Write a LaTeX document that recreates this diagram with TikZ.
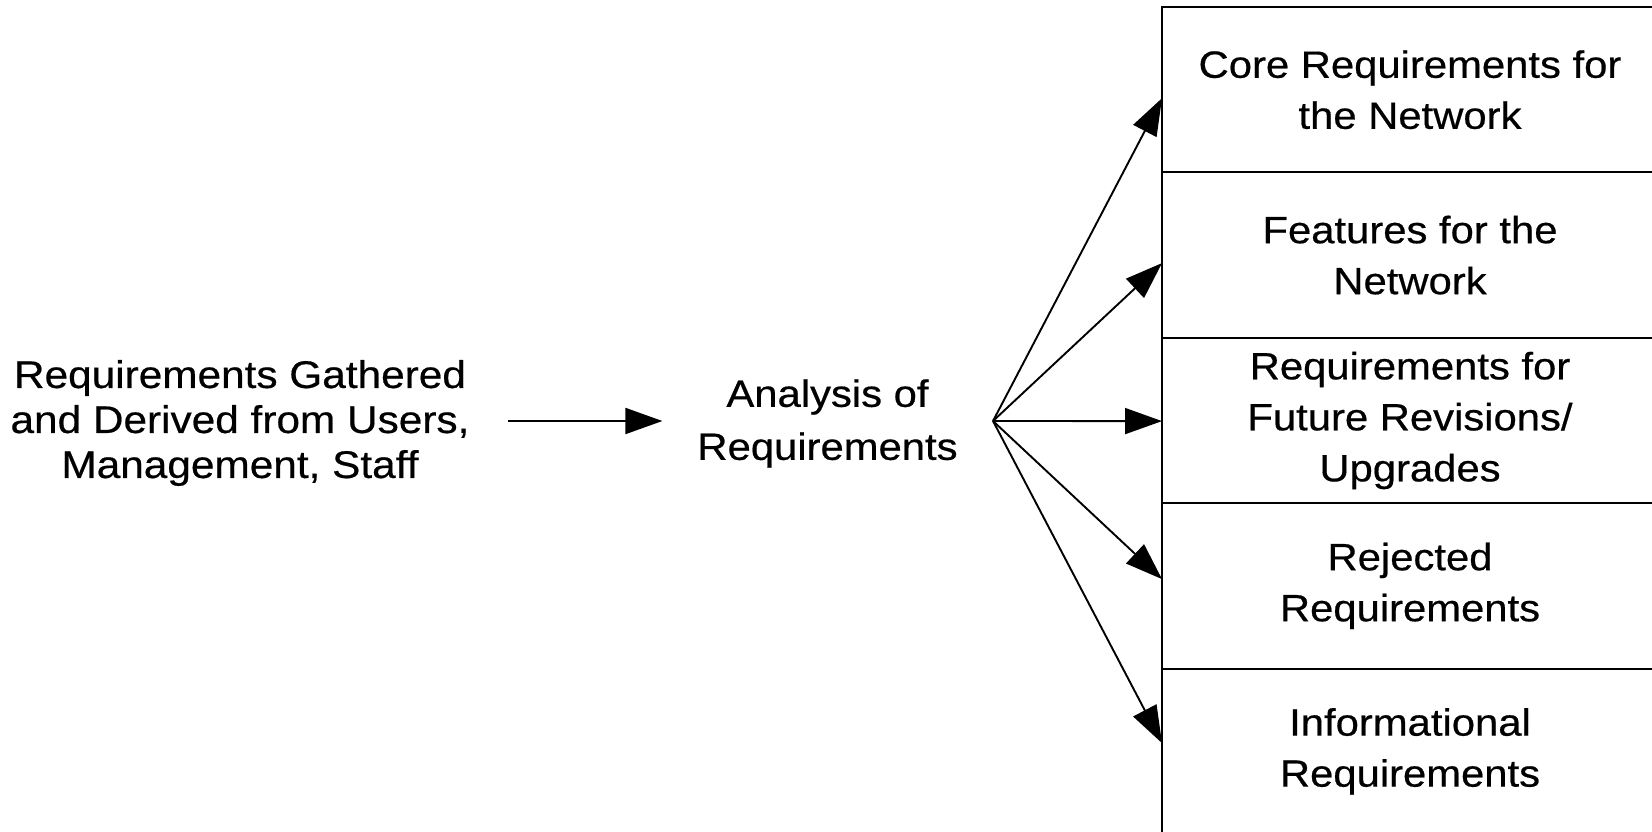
\documentclass[tikz,border=0pt]{standalone}
\usepackage{fontspec}
\setmainfont{Liberation Sans}
\newfontfamily\widefont[FakeStretch=1.1,FakeBold=0.5]{Liberation Sans}
\usetikzlibrary{arrows.meta,calc}
\begin{document}
\begin{tikzpicture}[x=1pt,y=-1pt,
  conn/.style={line width=1.9pt,-{Triangle[length=37pt,width=26pt]}},
  rowbox/.style={draw,line width=1.9pt,minimum width=496pt,minimum height=165.4pt,
    inner sep=0pt,outer sep=0pt,anchor=north west,align=center,
    font=\widefont\fontsize{38}{51}\selectfont},
  lbl/.style={align=center,inner sep=0pt,outer sep=0pt}]
\useasboundingbox (0,0) rectangle (1652,832);
\clip (0,0) rectangle (1652,832);
\node[lbl,font=\widefont\fontsize{38.5}{45}\selectfont] (src) at (240,423)
  {Requirements Gathered\\and Derived from Users,\\Management, Staff};
\node[lbl,font=\widefont\fontsize{38}{53}\selectfont] (ana) at (827.5,423.5)
  {Analysis of\\Requirements};
\coordinate (fan) at (993,421);
\node[rowbox] (r1) at (1162,7) {Core Requirements for\\the Network};
\node[rowbox] (r2) at (r1.south west) {Features for the\\Network};
\node[rowbox] (r3) at (r2.south west) {Requirements for\\Future Revisions/\\Upgrades};
\node[rowbox] (r4) at (r3.south west) {Rejected\\Requirements};
\node[rowbox] (r5) at (r4.south west) {Informational\\Requirements};
\draw[conn] ($(src.east|-fan)+(39,0)$) -- ($(ana.west|-fan)+(-35,0)$);
\draw[conn] (fan) -- ($(r1.west)+(0,8.5)$);
\draw[conn] (fan) -- ($(r2.west)+(0,8)$);
\draw[conn] (fan) -- ($(r3.west)+(0,0.6)$);
\draw[conn] (fan) -- ($(r4.west)+(0,-6.8)$);
\draw[conn] (fan) -- ($(r5.west)+(0,-8.2)$);
\end{tikzpicture}
\end{document}
